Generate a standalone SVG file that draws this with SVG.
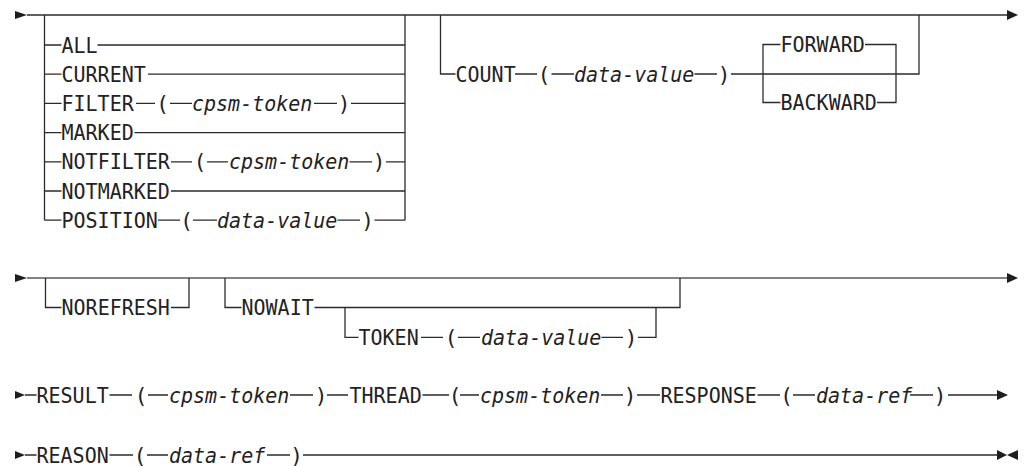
<svg xmlns="http://www.w3.org/2000/svg" width="1024" height="466" viewBox="0 0 1024 466">
<style>
.ln{stroke:#2b2b2b;stroke-width:1.3;fill:none}
.ln2{stroke:#5a5a5a;stroke-width:1.6;fill:none}
.ar{fill:#1e1e1e}
text{font-family:"DejaVu Sans Mono","Liberation Mono",monospace;font-size:21px;fill:#222}
.v{font-style:italic}
.p{text-anchor:middle}
</style>
<rect width="1024" height="466" fill="#fff"/>
<g id="connectors">
<polygon class="ar" points="15,11 15,19 27,15"/>
<path class="ln" d="M27 15H1007"/>
<polygon class="ar" points="1007,10 1007,20 1018,15"/>
<path class="ln" d="M44.5 15V220.2M405 15V220.2"/>
<path class="ln" d="M44.5 45H61.5M97.5 45H405"/>
<path class="ln" d="M44.5 74.2H61.5M148 74.2H405"/>
<path class="ln" d="M44.5 103.4H61.5M136 103.4H155M170 103.4H192M314 103.4H337M351 103.4H405"/>
<path class="ln" d="M44.5 132.6H61.5M134.5 132.6H405"/>
<path class="ln" d="M44.5 161.8H61.5M171 161.8H192M207 161.8H228M349.5 161.8H372M386 161.8H405"/>
<path class="ln" d="M44.5 191H61.5M171 191H405"/>
<path class="ln" d="M44.5 220.2H61.5M158 220.2H180M193 220.2H217M337.5 220.2H360M374.5 220.2H405"/>
<path class="ln" d="M440.5 15V74H455.5M515 74H537M551.5 74H574M694.5 74H717M731 74H919V15"/>
<path class="ln" d="M780.5 44.5H763V102.5H780.5M865 44.5H896V102.5H877"/>
<polygon class="ar" points="15,274 15,282 27,278"/>
<path class="ln2" d="M27 278H1007"/>
<polygon class="ar" points="1007,273 1007,283 1018,278"/>
<path class="ln" d="M45.5 278V307.5H61.5M171 307.5H189V278"/>
<path class="ln" d="M225 278V307.5H241.5M314.5 307.5H680V278"/>
<path class="ln" d="M345 307.5V337.3H358.5M421 337.3H443M458 337.3H480M601.5 337.3H623M638 337.3H656V307.5"/>
<polygon class="ar" points="15,391 15,399 25,395"/>
<path class="ln" d="M25 395H36.5M109.5 395H132M148 395H168M290 395H313M327 395H348M422.5 395H449M460 395H479M601 395H623M637 395H660M757.5 395H780M793 395H815M910 395H933M948 395H997"/>
<polygon class="ar" points="997,390 997,400 1008,395"/>
<polygon class="ar" points="15,451 15,459 25,455"/>
<path class="ln" d="M25 455H36.5M109.5 455H133M147 455H168M267 455H290M303 455H997"/>
<polygon class="ar" points="997,450 997,460 1007,455"/>
<polygon class="ar" points="1018,450 1018,460 1007,455"/>
</g>
<g id="opt-all"><text x="61.5" y="52.5" textLength="36.1" lengthAdjust="spacingAndGlyphs">ALL</text></g>
<g id="opt-current"><text x="61.5" y="81.7" textLength="84.3" lengthAdjust="spacingAndGlyphs">CURRENT</text></g>
<g id="opt-filter"><text x="61.5" y="110.9" textLength="72.2" lengthAdjust="spacingAndGlyphs">FILTER</text><text class="p" x="162.5" y="110.9">(</text><text class="v" x="192" y="110.9" textLength="120.4" lengthAdjust="spacingAndGlyphs">cpsm-token</text><text class="p" x="344" y="110.9">)</text></g>
<g id="opt-marked"><text x="61.5" y="140.1" textLength="72.2" lengthAdjust="spacingAndGlyphs">MARKED</text></g>
<g id="opt-notfilter"><text x="61.5" y="169.3" textLength="108.4" lengthAdjust="spacingAndGlyphs">NOTFILTER</text><text class="p" x="200" y="169.3">(</text><text class="v" x="229" y="169.3" textLength="120.4" lengthAdjust="spacingAndGlyphs">cpsm-token</text><text class="p" x="379" y="169.3">)</text></g>
<g id="opt-notmarked"><text x="61.5" y="198.5" textLength="108.4" lengthAdjust="spacingAndGlyphs">NOTMARKED</text></g>
<g id="opt-position"><text x="61.5" y="227.7" textLength="96.3" lengthAdjust="spacingAndGlyphs">POSITION</text><text class="p" x="186.5" y="227.7">(</text><text class="v" x="217" y="227.7" textLength="120.4" lengthAdjust="spacingAndGlyphs">data-value</text><text class="p" x="367.5" y="227.7">)</text></g>
<g id="opt-count"><text x="455.5" y="81.5" textLength="60.2" lengthAdjust="spacingAndGlyphs">COUNT</text><text class="p" x="544" y="81.5">(</text><text class="v" x="574" y="81.5" textLength="120.4" lengthAdjust="spacingAndGlyphs">data-value</text><text class="p" x="724" y="81.5">)</text></g>
<g id="opt-forward"><text x="780.5" y="52" textLength="84.3" lengthAdjust="spacingAndGlyphs">FORWARD</text></g>
<g id="opt-backward"><text x="780.5" y="110" textLength="96.3" lengthAdjust="spacingAndGlyphs">BACKWARD</text></g>
<g id="opt-norefresh"><text x="61.5" y="315" textLength="108.4" lengthAdjust="spacingAndGlyphs">NOREFRESH</text></g>
<g id="opt-nowait"><text x="241.5" y="315" textLength="72.2" lengthAdjust="spacingAndGlyphs">NOWAIT</text></g>
<g id="opt-token"><text x="358.5" y="344.8" textLength="60.2" lengthAdjust="spacingAndGlyphs">TOKEN</text><text class="p" x="451" y="344.8">(</text><text class="v" x="481" y="344.8" textLength="120.4" lengthAdjust="spacingAndGlyphs">data-value</text><text class="p" x="631" y="344.8">)</text></g>
<g id="term-result"><text x="36.5" y="402.5" textLength="72.2" lengthAdjust="spacingAndGlyphs">RESULT</text><text class="p" x="141" y="402.5">(</text><text class="v" x="169" y="402.5" textLength="120.4" lengthAdjust="spacingAndGlyphs">cpsm-token</text><text class="p" x="321" y="402.5">)</text></g>
<g id="term-thread"><text x="349.5" y="402.5" textLength="72.2" lengthAdjust="spacingAndGlyphs">THREAD</text><text class="p" x="455" y="402.5">(</text><text class="v" x="480" y="402.5" textLength="120.4" lengthAdjust="spacingAndGlyphs">cpsm-token</text><text class="p" x="630" y="402.5">)</text></g>
<g id="term-response"><text x="660.5" y="402.5" textLength="96.3" lengthAdjust="spacingAndGlyphs">RESPONSE</text><text class="p" x="786.5" y="402.5">(</text><text class="v" x="816" y="402.5" textLength="96.3" lengthAdjust="spacingAndGlyphs">data-ref</text><text class="p" x="940" y="402.5">)</text></g>
<g id="term-reason"><text x="36.5" y="462.5" textLength="72.2" lengthAdjust="spacingAndGlyphs">REASON</text><text class="p" x="140" y="462.5">(</text><text class="v" x="169" y="462.5" textLength="96.3" lengthAdjust="spacingAndGlyphs">data-ref</text><text class="p" x="296.5" y="462.5">)</text></g>
</svg>
